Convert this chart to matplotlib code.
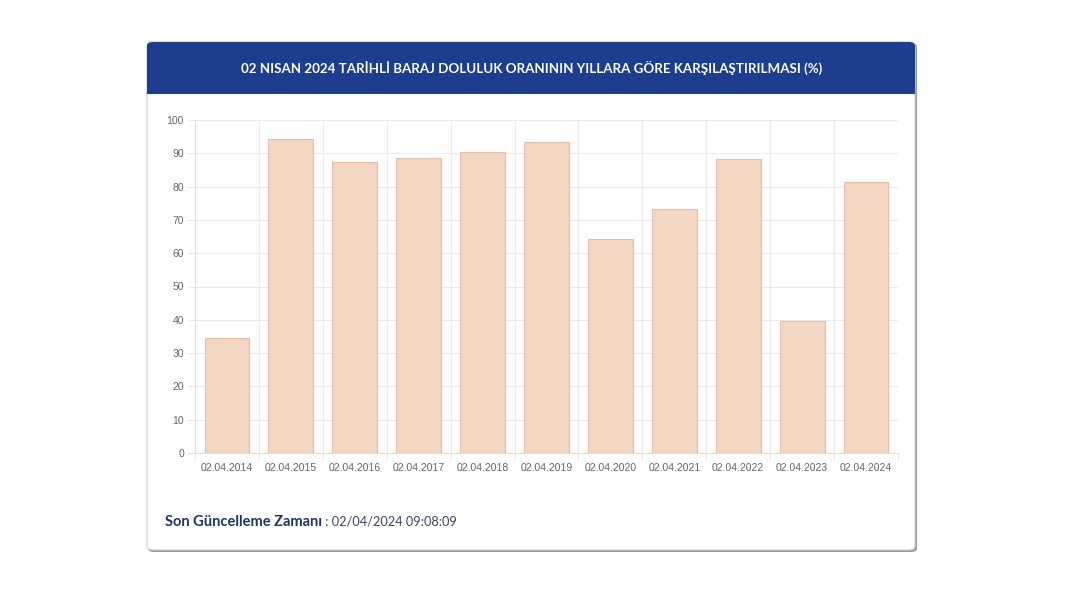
import matplotlib
matplotlib.use("Agg")
import matplotlib.pyplot as plt
from matplotlib.patches import FancyBboxPatch, Rectangle
import numpy as np

categories = ["02.04.2014", "02.04.2015", "02.04.2016", "02.04.2017", "02.04.2018",
              "02.04.2019", "02.04.2020", "02.04.2021", "02.04.2022", "02.04.2023",
              "02.04.2024"]
values = [34.4, 94.4, 87.3, 88.6, 90.4, 93.4, 64.2, 73.2, 88.4, 39.6, 81.4]
yticks = [0, 10, 20, 30, 40, 50, 60, 70, 80, 90, 100]
title = "02 NISAN 2024 TARİHLİ BARAJ DOLULUK ORANININ YILLARA GÖRE KARŞILAŞTIRILMASI (%)"
footer_bold = "Son Güncelleme Zamanı"
footer_rest = " : 02/04/2024 09:08:09"

W, H = 1068, 601
fig = plt.figure(figsize=(W / 100, H / 100), dpi=100)
fig.patch.set_facecolor("white")

def fx(px):
    return px / W

def fy(py):
    return 1 - py / H

# card shadow
shadow = FancyBboxPatch((fx(148), fy(552)), fx(916 - 147), (552 - 43) / H,
                        boxstyle="round,pad=0,rounding_size=0.006",
                        transform=fig.transFigure, facecolor="#9a9a9a",
                        edgecolor="none", zorder=0)
fig.patches.append(shadow)
card = FancyBboxPatch((fx(147), fy(550)), fx(915 - 147), (550 - 42) / H,
                      boxstyle="round,pad=0,rounding_size=0.006",
                      transform=fig.transFigure, facecolor="white",
                      edgecolor="#c8ccd4", linewidth=0.8, zorder=1)
fig.patches.append(card)
header = FancyBboxPatch((fx(147), fy(94)), fx(915 - 147), (94 - 42) / H,
                        boxstyle="round,pad=0,rounding_size=0.006",
                        transform=fig.transFigure, facecolor="#1d3e8e",
                        edgecolor="none", zorder=2)
fig.patches.append(header)
header_fix = Rectangle((fx(147), fy(94)), fx(915 - 147), (94 - 80) / H,
                       transform=fig.transFigure, facecolor="#1d3e8e",
                       edgecolor="none", zorder=2)
fig.patches.append(header_fix)

t = fig.text(fx(531.5), fy(68), title, ha="center", va="center", color="white",
             fontsize=9, fontweight="bold", family="Lato", zorder=3)
fig.canvas.draw()
r = fig.canvas.get_renderer()
bb = t.get_window_extent(r)
t.set_fontsize(9 * 581 / bb.width)

ax = fig.add_axes([fx(195), fy(453), fx(898 - 195), (453 - 120) / H])
ax.set_zorder(4)
ax.patch.set_alpha(0)
x = np.arange(len(categories))
ax.bar(x, values, width=0.7, color="#f3d6c2", edgecolor="#e6c0a6", linewidth=0.8, zorder=3)
ax.set_xlim(-0.5, len(categories) - 0.5)
ax.set_ylim(0, 100)
ax.set_yticks(yticks)
ax.set_yticklabels([str(v) for v in yticks])
ax.set_xticks(x)
ax.set_xticklabels(categories)
ax.set_xticks(np.arange(-0.5, len(categories), 1), minor=True)
ax.grid(axis="y", color="#ebebeb", linewidth=0.8, zorder=0)
ax.grid(axis="x", which="minor", color="#ebebeb", linewidth=0.8, zorder=0)
ax.grid(axis="x", which="major", visible=False)
for s in ["top", "right"]:
    ax.spines[s].set_visible(False)
ax.spines["left"].set_color("#e0e0e0")
ax.spines["bottom"].set_color("#e0e0e0")
ax.tick_params(axis="y", length=5, color="#e6e6e6", labelsize=7.5, labelcolor="#666666", pad=3)
ax.tick_params(axis="x", which="major", length=0, labelsize=7.5, labelcolor="#666666", pad=7)
ax.tick_params(axis="x", which="minor", length=5, color="#e6e6e6")
for lab in ax.get_xticklabels() + ax.get_yticklabels():
    lab.set_family("Liberation Sans")

tb = fig.text(fx(165), fy(522), footer_bold, ha="left", va="center", color="#1f3364",
              fontsize=9.5, fontweight="bold", family="Lato", zorder=5)
fig.canvas.draw()
bb = tb.get_window_extent(fig.canvas.get_renderer())
tb.set_fontsize(9.5 * 157 / bb.width)
fig.canvas.draw()
bb = tb.get_window_extent(fig.canvas.get_renderer())
tr = fig.text(bb.x1 / W, fy(522), footer_rest, ha="left", va="center", color="#3a4660",
              fontsize=9, family="Lato", zorder=5)
fig.canvas.draw()
bb2 = tr.get_window_extent(fig.canvas.get_renderer())
tr.set_fontsize(9 * (457 - bb.x1) / bb2.width)

fig.savefig("out.png", dpi=100, facecolor="white")
